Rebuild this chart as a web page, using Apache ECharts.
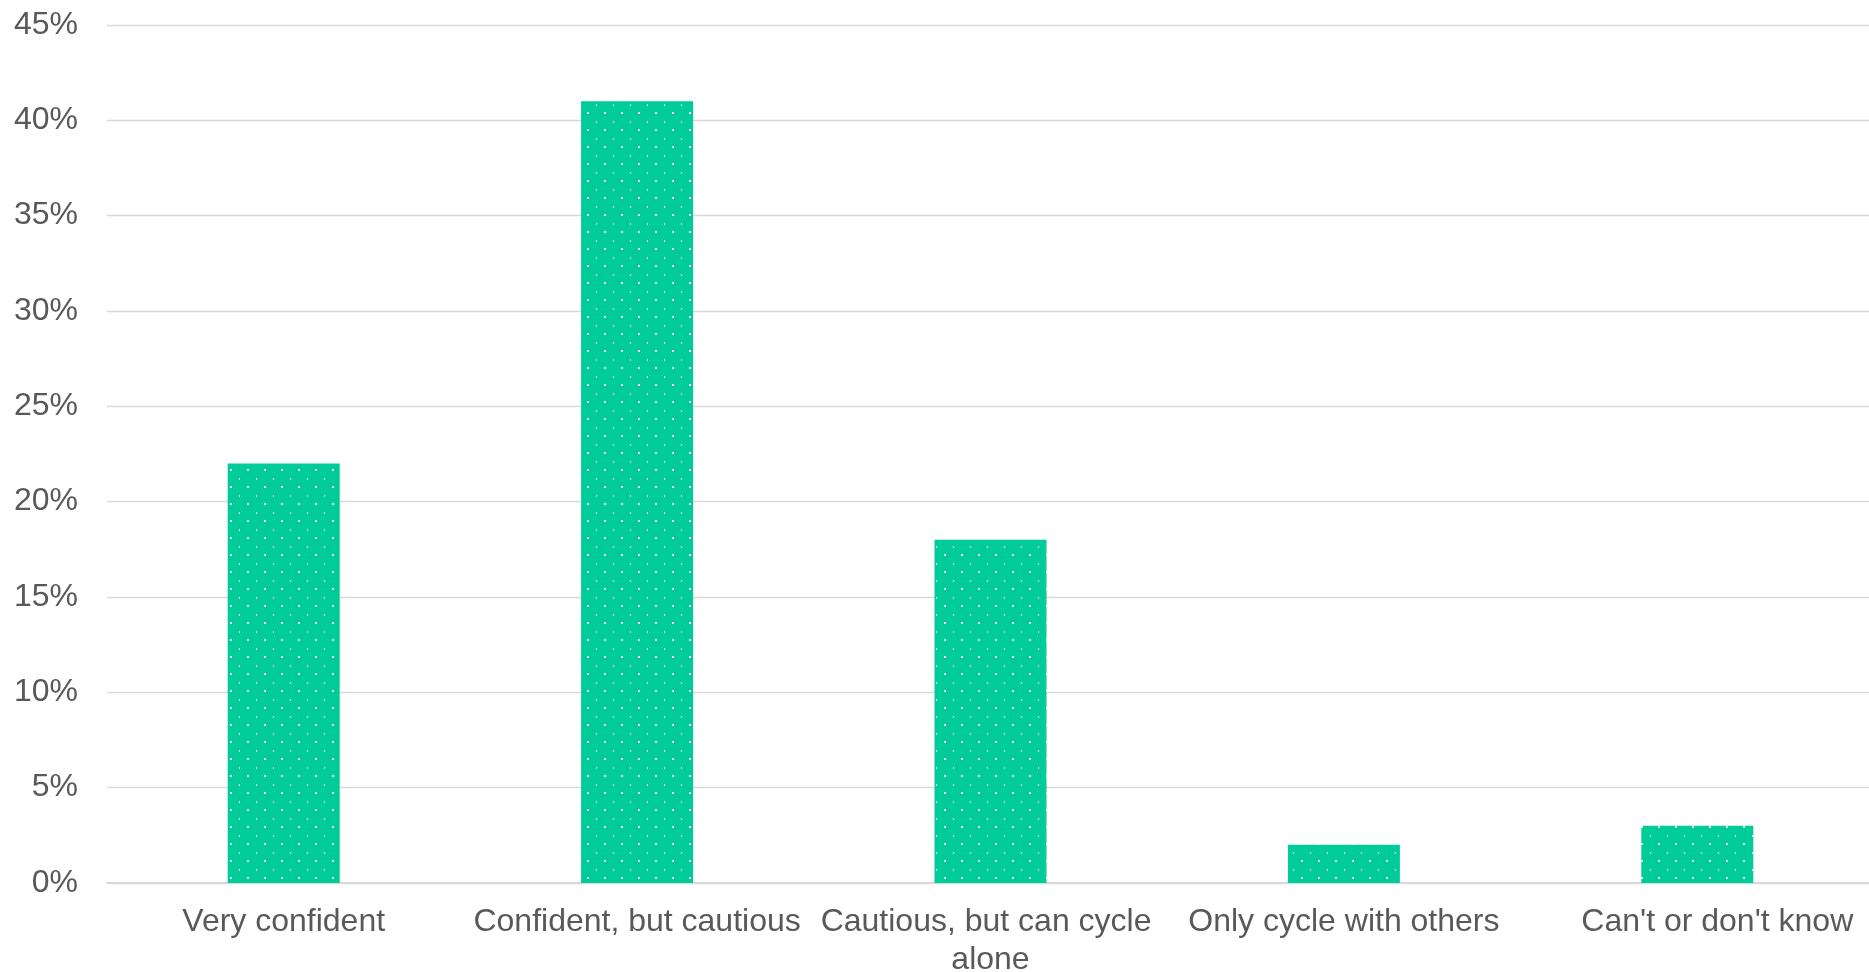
<!DOCTYPE html>
<html>
<head>
<meta charset="utf-8">
<style>
  html, body { margin: 0; padding: 0; background: #ffffff; overflow: hidden; }
  #chart { width: 1869px; height: 972px; }
</style>
<script src="https://cdn.jsdelivr.net/npm/echarts@6/dist/echarts.min.js"></script>
</head>
<body>
<div id="chart"></div>
<script>
// Cycling confidence survey: share of respondents per answer
const categories = [
  'Very confident',
  'Confident, but cautious',
  'Cautious, but can cycle alone',
  'Only cycle with others',
  "Can't or don't know"
];
const shares = [22, 41, 18, 2, 3];
const yTicks = [0, 5, 10, 15, 20, 25, 30, 35, 40, 45];

// Green fill with a staggered grid of small white dots
function dottedFill() {
  const c = document.createElement('canvas');
  c.width = 17; c.height = 17;
  const ctx = c.getContext('2d');
  ctx.fillStyle = '#00cc99';
  ctx.fillRect(0, 0, 17, 17);
  ctx.fillStyle = '#ffffff';
  ctx.fillRect(1, 2, 1, 2);
  ctx.fillRect(9, 10, 2, 2);
  return { image: c, repeat: 'repeat' };
}

const chart = echarts.init(document.getElementById('chart'), null, { renderer: 'canvas' });

const labelFont = { fontFamily: 'Liberation Sans, Arial, sans-serif', fontSize: 32, color: '#595959' };

chart.setOption({
  animation: false,
  backgroundColor: '#ffffff',
  grid: { left: 107, right: -5, top: 25, bottom: 89, containLabel: false, outerBoundsMode: 'none' },
  xAxis: {
    type: 'category',
    data: categories.map((c, i) => i === categories.length - 1
      ? { value: c, textStyle: { padding: [0, 0, 0, 40] } }
      : c),
    axisLine: { show: true, lineStyle: { color: '#d9d9d9', width: 2 } },
    axisTick: { show: false },
    axisLabel: Object.assign({}, labelFont, {
      interval: 0,
      margin: 20,
      lineHeight: 38,
      width: 345,
      overflow: 'break'
    })
  },
  yAxis: {
    type: 'value',
    min: 0,
    max: yTicks[yTicks.length - 1],
    interval: yTicks[1] - yTicks[0],
    axisLine: { show: false },
    axisTick: { show: false },
    splitLine: { lineStyle: { color: '#d9d9d9', width: 1.3 } },
    axisLabel: Object.assign({}, labelFont, {
      margin: 29,
      padding: [3, 0, 0, 0],
      formatter: v => v + '%'
    })
  },
  series: [{
    type: 'bar',
    data: shares,
    barWidth: 112,
    itemStyle: { color: dottedFill() }
  }]
});
</script>
</body>
</html>
